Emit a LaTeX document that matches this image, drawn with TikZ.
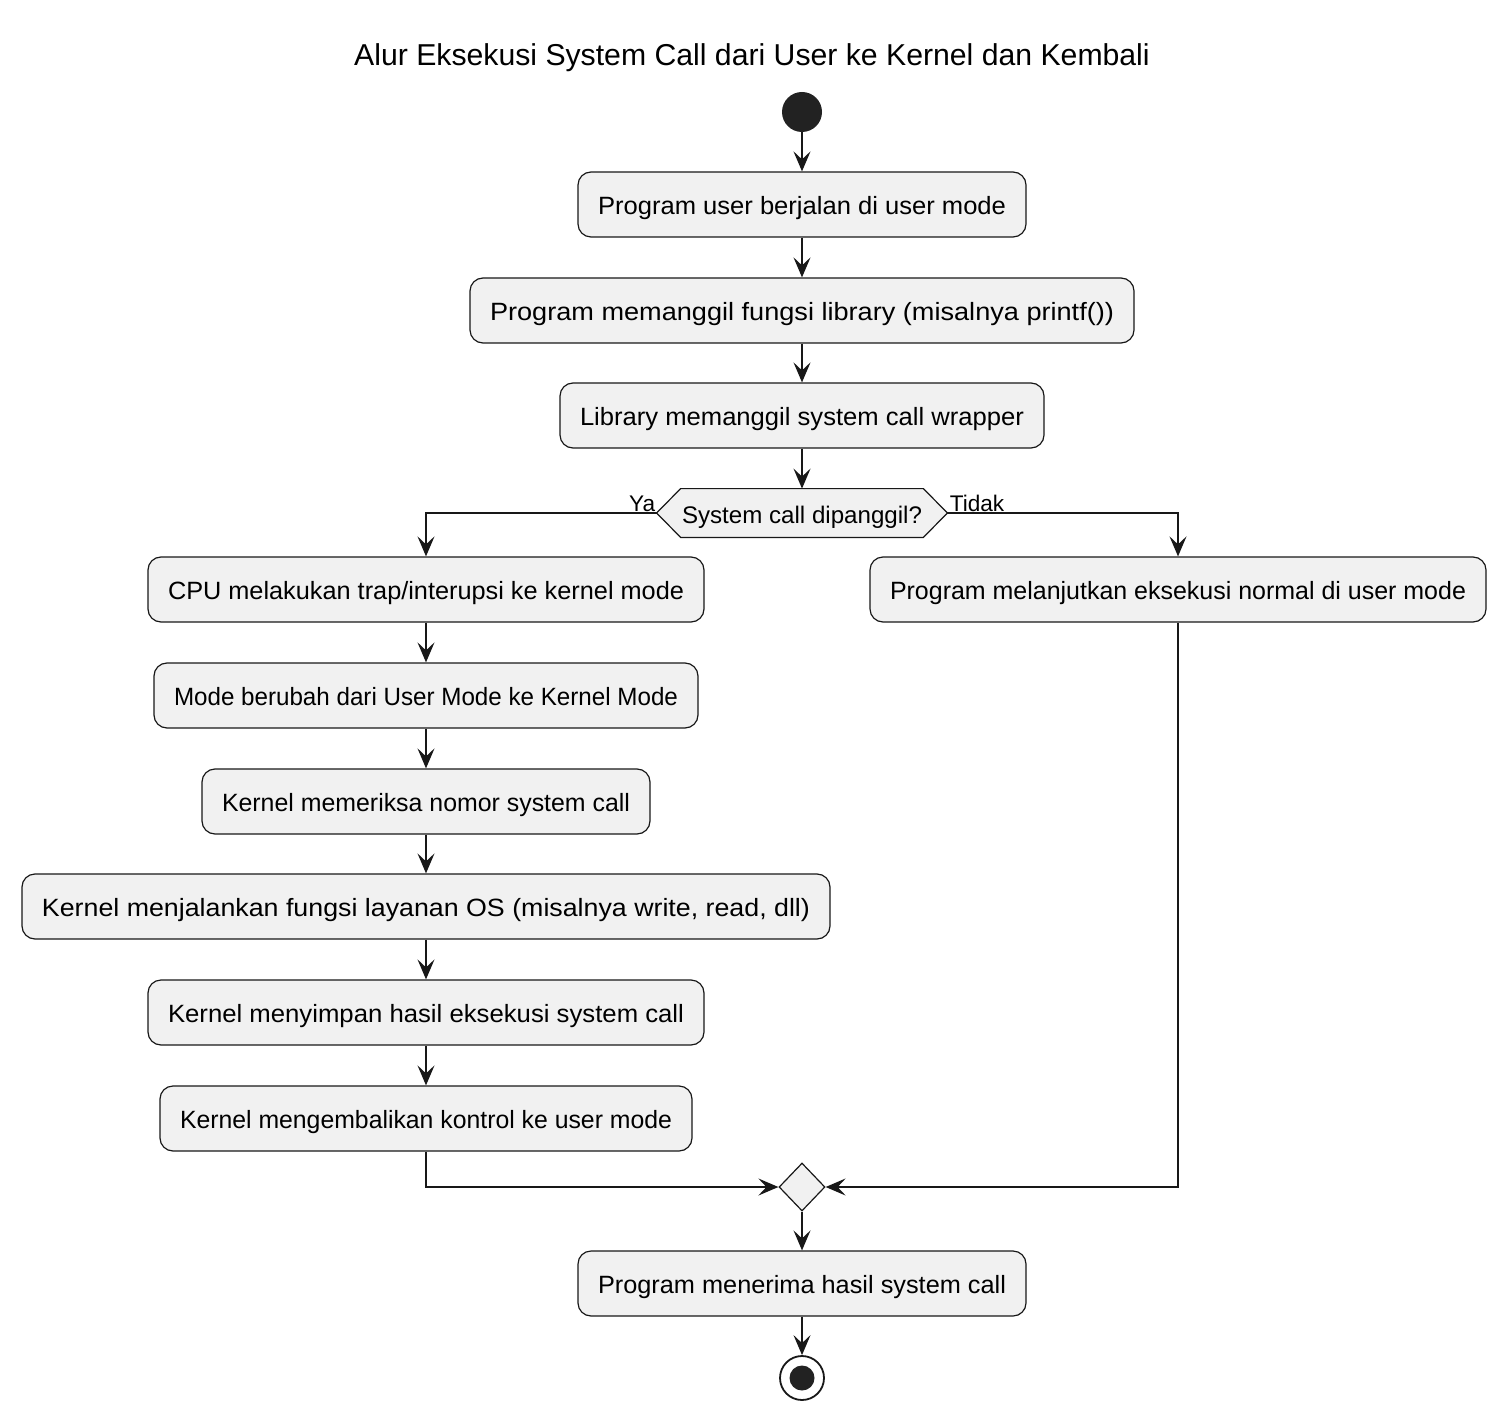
\documentclass[tikz,border=0pt]{standalone}
\usepackage{fontspec}
\usepackage{graphicx}
\setmainfont{Liberation Sans}
\usetikzlibrary{arrows.meta,shapes.geometric,backgrounds}
\definecolor{boxfill}{HTML}{F1F1F1}
\definecolor{ink}{HTML}{181818}
\definecolor{dot}{HTML}{222222}
\def\u{0.5pt}
% set #2 stretched or squeezed horizontally to a width of #1 picture units
\newcommand\fitto[2]{\sbox0{#2}\pgfmathsetmacro\fitf{(#1)*0.5/\wd0}\scalebox{\fitf}[1]{\usebox0}}
\tikzset{
  act/.style={draw=ink, fill=boxfill, line width=0.6pt, rounded corners=6.5pt,
    minimum height=65*\u, inner sep=0pt, text height=10pt, text depth=0pt,
    font=\fontsize{12.5}{15}\selectfont},
  arr/.style={draw=ink, line width=0.9pt, -{Stealth[length=10pt,width=8.5pt,inset=4pt]}},
  lbl/.style={inner sep=0pt, font=\fontsize{11.3}{13}\selectfont},
}
\begin{document}
\begin{tikzpicture}[x=0.5pt,y=-0.5pt]
\useasboundingbox (0,0) rectangle (1508,1422);

% title
\node[anchor=base, inner sep=0pt, font=\fontsize{15.1}{18}\selectfont] (title) at (752,66) {Alur Eksekusi System Call dari User ke Kernel dan Kembali};

% start and main column
\node[circle, fill=dot, minimum size=40*\u, inner sep=0pt] (start) at (802,112) {};
\node[act, minimum width=448*\u] (a1) at (802,204.5) {\fitto{408}{Program user berjalan di user mode}};
\node[act, minimum width=664*\u] (a2) at (802,310.5) {\fitto{624}{Program memanggil fungsi library (misalnya printf())}};
\node[act, minimum width=484*\u] (a3) at (802,415.5) {\fitto{444}{Library memanggil system call wrapper}};

% decision
\node[minimum width=290*\u, minimum height=48*\u, inner sep=0pt, text height=10pt, text depth=0pt,
  font=\fontsize{12}{14}\selectfont] (dec) at (802,513) {\fitto{240}{System call dipanggil?}};
\begin{scope}[on background layer]
\draw[draw=ink, fill=boxfill, line width=0.6pt]
  (dec.west) -- ([xshift=24*\u]dec.north west) -- ([xshift=-24*\u]dec.north east)
  -- (dec.east) -- ([xshift=-24*\u]dec.south east) -- ([xshift=24*\u]dec.south west) -- cycle;
\end{scope}
\node[lbl, anchor=south east] (ya) at ([xshift=-1*\u, yshift=1*\u]dec.west) {Ya};
\node[lbl, anchor=south west] (tidak) at ([xshift=2*\u, yshift=1*\u]dec.east) {Tidak};

% yes branch
\node[act, minimum width=556*\u] (l1) at (426,589.5) {\fitto{516}{CPU melakukan trap/interupsi ke kernel mode}};
\node[act, minimum width=544*\u] (l2) at (426,695.5) {\fitto{504}{Mode berubah dari User Mode ke Kernel Mode}};
\node[act, minimum width=448*\u] (l3) at (426,801.5) {\fitto{408}{Kernel memeriksa nomor system call}};
\node[act, minimum width=808*\u] (l4) at (426,906.5) {\fitto{768}{Kernel menjalankan fungsi layanan OS (misalnya write, read, dll)}};
\node[act, minimum width=556*\u] (l5) at (426,1012.5) {\fitto{516}{Kernel menyimpan hasil eksekusi system call}};
\node[act, minimum width=532*\u] (l6) at (426,1118.5) {\fitto{492}{Kernel mengembalikan kontrol ke user mode}};

% no branch
\node[act, minimum width=616*\u] (r1) at (1178,589.5) {\fitto{576}{Program melanjutkan eksekusi normal di user mode}};

% merge, result and end
\node[diamond, draw=ink, fill=boxfill, line width=0.6pt, minimum width=46*\u, minimum height=48*\u, inner sep=0pt] (merge) at (802,1187) {};
\node[act, minimum width=448*\u] (a4) at (802,1283.5) {\fitto{408}{Program menerima hasil system call}};
\node[circle, draw=ink, line width=0.9pt, fill=white, minimum size=44*\u, inner sep=0pt] (stop) at (802,1378) {};
\node[circle, fill=dot, minimum size=25*\u, inner sep=0pt] (stopdot) at (stop.center) {};

% connectors
\draw[arr] (start) -- (a1);
\draw[arr] (a1) -- (a2);
\draw[arr] (a2) -- (a3);
\draw[arr] (a3) -- (dec);
\draw[arr] (dec.west) -| (l1.north);
\draw[arr] (dec.east) -| (r1.north);
\draw[arr] (l1) -- (l2);
\draw[arr] (l2) -- (l3);
\draw[arr] (l3) -- (l4);
\draw[arr] (l4) -- (l5);
\draw[arr] (l5) -- (l6);
\draw[arr] (l6.south) |- (merge.west);
\draw[arr] (r1.south) |- (merge.east);
\draw[arr] (merge) -- (a4);
\draw[arr] (a4) -- (stop);
\end{tikzpicture}
\end{document}
